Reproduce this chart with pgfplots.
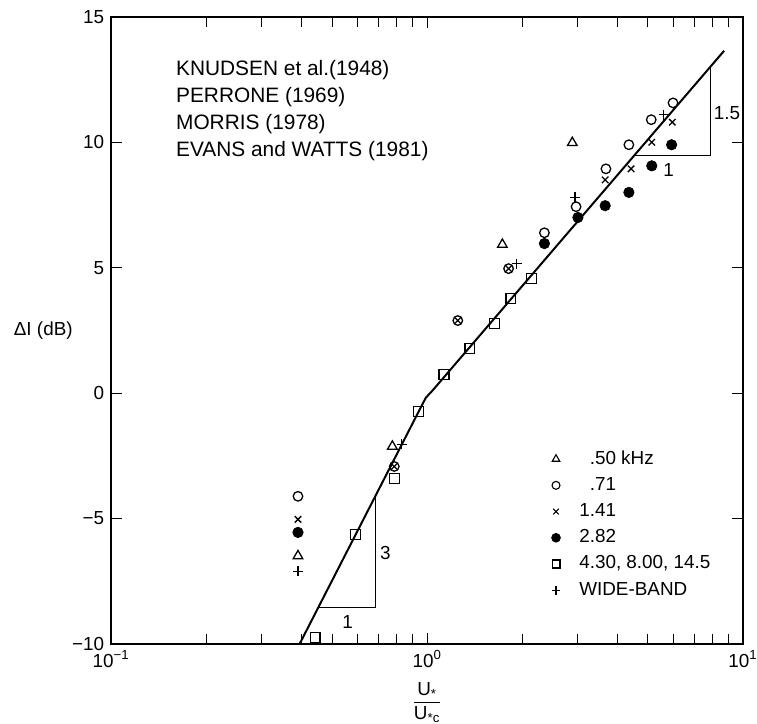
\documentclass[border=0pt]{standalone}
\usepackage{fontspec}
\setmainfont{Liberation Sans}
\usepackage{pgfplots}
\pgfplotsset{compat=1.18}
\begin{document}
\begin{tikzpicture}[font=\fontsize{9.5}{11}\selectfont]
\begin{semilogxaxis}[
  scale only axis,
  width=318pt, height=315.5pt,
  xmin=0.1, xmax=10, ymin=-10, ymax=15,
  xtick={0.1,1,10},
  xticklabels={10\textsuperscript{−1},10\textsuperscript{0},10\textsuperscript{1}},
  ytick={-10,-5,0,5,10,15},
  yticklabels={−10,−5,0,5,10,15},
  tick align=inside,
  major tick length=5.5pt,
  minor tick length=5pt,
  every tick/.append style={black, line width=0.5pt},
  axis line style={line width=0.8pt},
  every axis y label/.style={at={(axis description cs:-0.05,0.5)}, anchor=east},
  ylabel={ΔI (dB)},
  every axis x label/.style={at={(axis description cs:0.5,0)}, anchor=center, yshift=-29.5pt},
  xlabel={$\displaystyle\frac{\mbox{U\textsubscript{*}}}{\mbox{U\textsubscript{*c}}}$},
  legend style={at={(rel axis cs:0.697,0.312)}, anchor=north west, draw=none, fill=none,
    inner sep=0pt, outer sep=0pt, row sep=2.2pt,
    nodes={inner sep=1pt, text height=7pt, text depth=2pt},
    /tikz/every odd column/.append style={column sep=8.5pt}},
  legend cell align=left,
]
% legend entries
\addlegendimage{only marks, mark=triangle, mark size=2.2pt, mark options={line width=0.55pt}}
\addlegendentry{\phantom{1}.50 kHz}
\addlegendimage{only marks, mark=o, mark size=2pt, mark options={line width=0.55pt}}
\addlegendentry{\phantom{1}.71}
\addlegendimage{only marks, mark=x, mark size=2pt, mark options={line width=0.55pt}}
\addlegendentry{1.41}
\addlegendimage{only marks, mark=*, mark size=2.2pt}
\addlegendentry{2.82}
\addlegendimage{only marks, mark=square, mark size=2pt, mark options={line width=0.55pt}}
\addlegendentry{4.30, 8.00, 14.5}
\addlegendimage{only marks, mark=+, mark size=2.2pt, mark options={line width=0.55pt}}
\addlegendentry{WIDE-BAND}

% fitted line
\addplot[forget plot, black, line width=1pt] coordinates {
  (0.395,-10) (0.955,-0.57) (0.99,-0.19) (1.04,0.1) (8.71,13.65)};
% slope triangles
\addplot[forget plot, black, line width=0.6pt] coordinates {
  (0.452,-8.55) (0.685,-8.55) (0.685,-4.12)};
\addplot[forget plot, black, line width=0.6pt] coordinates {
  (4.52,9.46) (7.87,9.46) (7.87,13.0)};

% data
\addplot[forget plot, only marks, mark=triangle, mark size=2.8pt, mark options={line width=0.65pt, fill=white}] coordinates {
  (0.39,-6.5) (0.776,-2.13) (1.73,5.92) (2.88,9.98)};
\addplot[forget plot, only marks, mark=square, mark size=2.5pt, mark options={line width=0.65pt, fill=white}] coordinates {
  (0.442,-9.74) (0.594,-5.64) (0.787,-3.4) (0.94,-0.74) (1.13,0.74)
  (1.365,1.77) (1.63,2.77) (1.84,3.76) (2.14,4.56)};
\addplot[forget plot, only marks, mark=o, mark size=2.4pt, mark options={line width=0.65pt, fill=white}] coordinates {
  (0.39,-4.12) (0.787,-2.93) (1.25,2.89) (1.81,4.96) (2.35,6.39)
  (2.96,7.43) (3.68,8.94) (4.35,9.9) (5.12,10.9) (6.0,11.57)};
\addplot[forget plot, only marks, mark=x, mark size=2.3pt, mark options={line width=0.65pt}] coordinates {
  (0.39,-5.04) (0.787,-2.93) (1.25,2.89) (1.81,4.96) (3.66,8.5)
  (4.42,8.94) (5.14,10.0) (5.97,10.8)};
\addplot[forget plot, only marks, mark=*, mark size=2.6pt, black] coordinates {
  (0.39,-5.56) (2.35,5.96) (3.0,7.0) (3.66,7.47) (4.35,8.0) (5.14,9.06) (5.94,9.9)};
\addplot[forget plot, only marks, mark=+, mark size=2.5pt, mark options={line width=0.65pt}] coordinates {
  (0.39,-7.11) (0.83,-2.05) (1.92,5.16) (2.94,7.8) (5.6,11.1)};

% annotations
\begin{scope}[font=\fontsize{10.5}{12}\selectfont]
\node[anchor=west, inner sep=0pt] at (axis cs:0.16,12.89) {KNUDSEN et al.(1948)};
\node[anchor=west, inner sep=0pt] at (axis cs:0.16,11.8) {PERRONE (1969)};
\node[anchor=west, inner sep=0pt] at (axis cs:0.16,10.72) {MORRIS (1978)};
\node[anchor=west, inner sep=0pt] at (axis cs:0.16,9.64) {EVANS and WATTS (1981)};
\end{scope}
\node[inner sep=0pt] at (axis cs:0.738,-6.4) {3};
\node[inner sep=0pt] at (axis cs:0.56,-9.14) {1};
\node[inner sep=0pt] at (axis cs:8.9,11.18) {1.5};
\node[inner sep=0pt] at (axis cs:5.81,8.9) {1};
\end{semilogxaxis}
\pgfresetboundingbox
\path[use as bounding box] ([xshift=-56pt,yshift=-40pt]current axis.south west) rectangle ([xshift=7pt,yshift=8.5pt]current axis.north east);
\end{tikzpicture}
\end{document}
